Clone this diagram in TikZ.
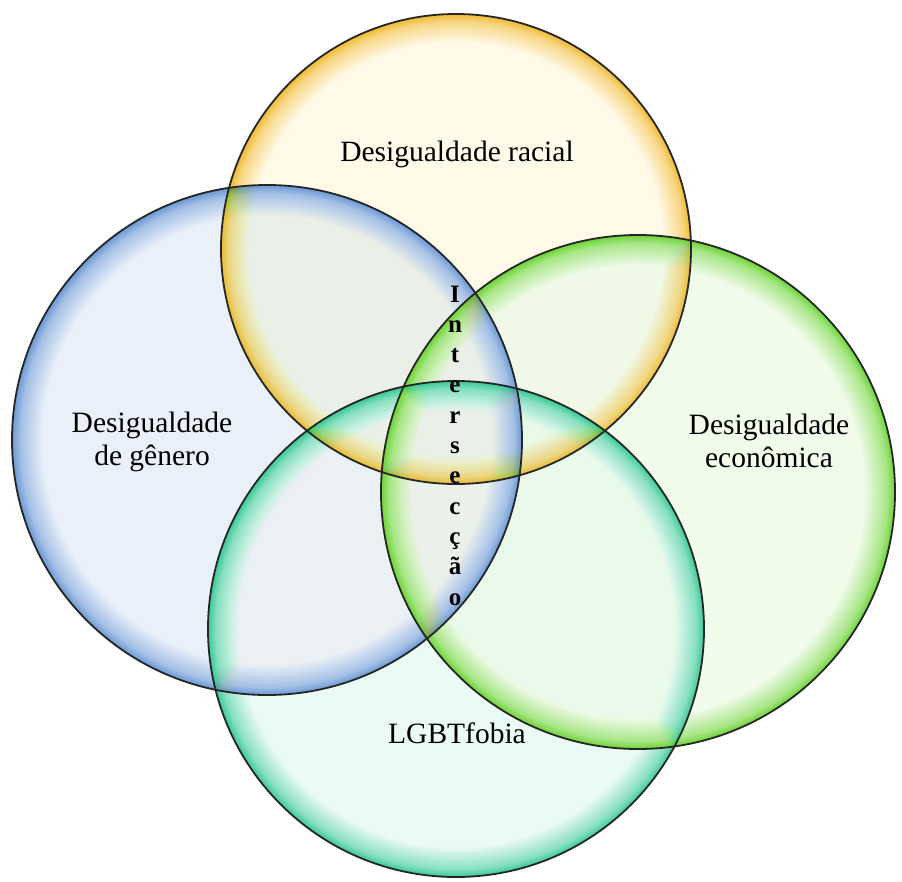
\documentclass[tikz,border=0pt]{standalone}
\usepackage{fontspec}
\setmainfont{Liberation Serif}
\definecolor{racin}{HTML}{FFF9E8}
\definecolor{racrim}{HTML}{F0BA30}
\definecolor{genin}{HTML}{EAF0F9}
\definecolor{genrim}{HTML}{6A98D4}
\definecolor{ecoin}{HTML}{F0FBEA}
\definecolor{ecorim}{HTML}{6CD434}
\definecolor{lgbin}{HTML}{EAFAF4}
\definecolor{lgbrim}{HTML}{38CA96}
\pgfdeclareradialshading{racball}{\pgfpoint{0bp}{0bp}}{color(0bp)=(racin);color(22bp)=(racin);color(24.2bp)=(racrim!55!racin);color(25bp)=(racrim);color(50bp)=(racrim)}
\pgfdeclareradialshading{genball}{\pgfpoint{0bp}{0bp}}{color(0bp)=(genin);color(22bp)=(genin);color(24.2bp)=(genrim!55!genin);color(25bp)=(genrim);color(50bp)=(genrim)}
\pgfdeclareradialshading{ecoball}{\pgfpoint{0bp}{0bp}}{color(0bp)=(ecoin);color(22bp)=(ecoin);color(24.2bp)=(ecorim!55!ecoin);color(25bp)=(ecorim);color(50bp)=(ecorim)}
\pgfdeclareradialshading{lgbball}{\pgfpoint{0bp}{0bp}}{color(0bp)=(lgbin);color(22bp)=(lgbin);color(24.2bp)=(lgbrim!55!lgbin);color(25bp)=(lgbrim);color(50bp)=(lgbrim)}
\newcommand{\rotulo}{\fontsize{29.5}{33}\selectfont}

\begin{document}
\begin{tikzpicture}[x=1pt,y=-1pt,
                    bola/.style={draw=black!85,line width=1.8pt},
                    rot/.style={font=\rotulo,align=center,inner sep=0pt}]
                    \useasboundingbox(0,0)rectangle(902,881);
                    \coordinate(R)at(456,249);
                    \coordinate(G)at(267,440);
                    \coordinate(E)at(638,492);
                    \coordinate(L)at(456,629);
                    \begin{scope}[blend group=darken]
                    \shade[shading=genball](G)circle(255);
                    \shade[shading=racball](R)circle(235);
                    \shade[shading=ecoball](E)circle(257);
                    \shade[shading=lgbball](L)circle(248);
                    \end{scope}
                    \draw[bola](G)circle(255);
                    \draw[bola](R)circle(235);
                    \draw[bola](E)circle(257);
                    \draw[bola](L)circle(248);
                    \node[rot](racial)at(457,154){Desigualdade racial};
                    \node[rot](genero)at(152,442){Desigualdade\\de gênero};
                    \node[rot](economica)at(769,441){Desigualdade\\econômica};
                    \node[rot](lgbt)at(457,733){LGBTfobia};
                    \foreach \l[count=\i from 0] in {I,n,t,e,r,s,e,c,ç,ã,o}
                        \node[font=\fontsize{25}{25}\selectfont\bfseries,anchor=base,inner sep=0pt](int\i)at(455,302+30.3*\i){\l};
                \end{tikzpicture}
\end{document}
